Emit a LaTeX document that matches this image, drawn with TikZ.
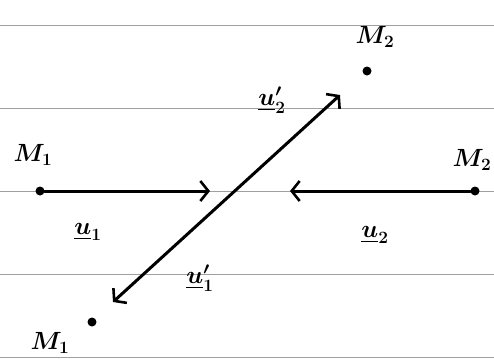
\documentclass[tikz,border=0pt]{standalone}
\usepackage{amsmath,amssymb}
\usetikzlibrary{arrows.meta,positioning}
\newcommand{\vu}[1]{\underline{u}_{#1}}

\begin{document}
\begin{tikzpicture}[x=1pt,y=-1pt, every node/.style={font=\fontsize{27}{30}\selectfont\boldmath},
  barb/.tip={Straight Barb[length=8pt,width=20pt,line width=2.6pt]},
  rule/.style={gray!75,line width=1pt}, dot/.style={circle,fill,inner sep=0pt,minimum
  size=9pt}, vec/.style={-barb,line width=3pt,line cap=round},
  twoway/.style={barb-barb,line width=3pt,line cap=round}, lab/.style={inner sep=1pt}]
  \useasboundingbox (0,0) rectangle (494,362);
  % ruled paper
  \foreach \yy in {25,108,191,274,357} {\draw[rule] (0,\yy) -- (494,\yy);}
  \node[dot] (m1) at (40,191) {}; \node[dot] (m2) at (475,191) {};
  \node[dot] (m2p) at (367,71) {}; \node[dot] (m1p) at (92,322) {};
  \coordinate (tip1) at (210,191); \coordinate (tip2) at (290,191);
  \coordinate (tip2p) at (340,95); \coordinate (tip1p) at (113,302);
  \node[lab] (lm1) at (33,155) {$M_1$}; \node[lab] (lm2) at (472,160) {$M_2$};
  \node[lab] (lm2p) at (375,37) {$M_2$}; \node[lab] (lm1p) at (50,343) {$M_1$};
  \draw[vec] (m1) -- (tip1); \draw[vec] (m2) -- (tip2);
  \draw[twoway] (tip1p) -- (tip2p);
  \node[lab] (lu1) at (88,232) {$\vu{1}$}; \node[lab] (lu2) at (375,235) {$\vu{2}$};
  \node[lab] (lu2p) at (272,100) {$\vu{2}'$}; \node[lab] (lu1p) at (200,278)
  {$\vu{1}'$};
\end{tikzpicture}
\end{document}
